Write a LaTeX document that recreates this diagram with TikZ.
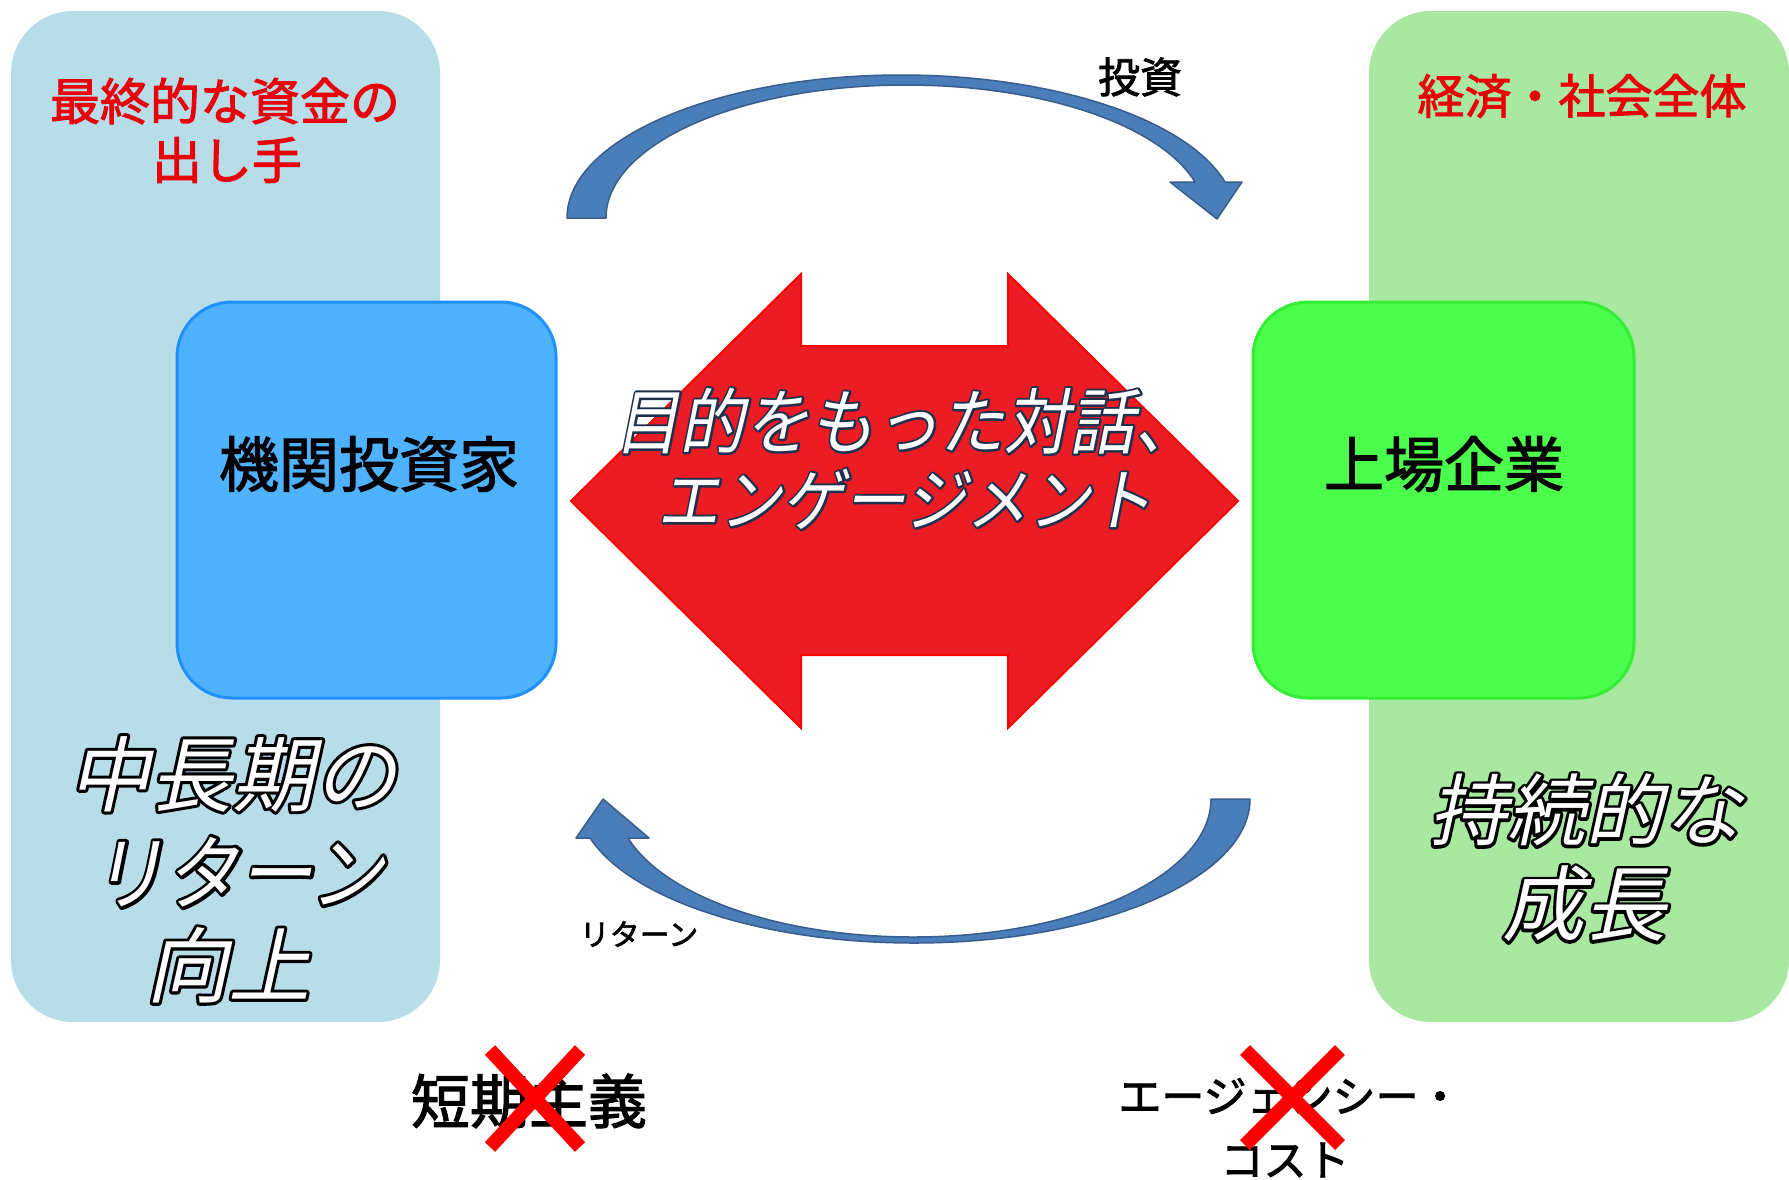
\documentclass[tikz,border=0pt]{standalone}
\usepackage{fontspec}
\setmainfont{Noto Sans CJK JP}[FakeBold=2]
\newfontfamily\jpsl[FakeSlant=0.22]{Noto Sans CJK JP}
\newcommand{\outlinedtext}[3]{\rlap{\special{pdf:literal direct 1 Tr #1 w 1 j #2 RG}#3\special{pdf:literal direct 0 Tr}}#3}
\definecolor{lbluebg}{HTML}{B7DDE8}
\definecolor{lgreenbg}{HTML}{A9E8A0}
\definecolor{bluefill}{HTML}{4FB2FF}
\definecolor{blueline}{HTML}{1E90FF}
\definecolor{greenfill}{HTML}{4DFF4D}
\definecolor{greenline}{HTML}{33EE33}
\definecolor{redfill}{HTML}{EC1C24}
\definecolor{redline}{HTML}{FF0000}
\definecolor{arrowfill}{HTML}{4A7EBB}
\definecolor{arrowline}{HTML}{385D8A}
\definecolor{titlered}{HTML}{E8000B}
\begin{document}
\begin{tikzpicture}[x=1pt,y=-1pt,
  bgbox/.style={rounded corners=62pt, inner sep=0pt, draw=none},
  actorbox/.style={rounded corners=55pt, inner sep=0pt, line width=3pt, minimum width=379pt, minimum height=396pt},
  bluearrow/.style={fill=arrowfill, draw=arrowline, line width=1.5pt, line join=round},
  redarrow/.style={fill=redfill, draw=redline, line width=2pt, line join=miter},
  redtitle/.style={inner sep=0pt, text=titlered, font=\fontsize{49}{55}\selectfont},
  actortext/.style={inner sep=0pt, text=black, font=\fontsize{60}{66}\selectfont},
  bigoutline/.style={inner sep=0pt, text=white},
  dialog/.style={inner sep=0pt, text=white},
  smalllabel/.style={inner sep=0pt, text=black},
  crossline/.style={draw=redline, line width=14pt},
]
\useasboundingbox (0,0) rectangle (1789,1179);
\fill[white] (0,0) rectangle (1789,1179);

% background panels
\node[bgbox, fill=lbluebg, minimum width=429pt, minimum height=1011pt] (leftpanel) at (225.5,516.5) {};
\node[bgbox, fill=lgreenbg, minimum width=420pt, minimum height=1011pt] (rightpanel) at (1579,516.5) {};

% curved arrows
\draw[bluearrow] (567,218) .. controls (567,139) and (717,75) .. (901,75)
  .. controls (1053,75) and (1187,119) .. (1225,182)
  -- (1242,182) -- (1217,219) -- (1170,182) -- (1195,182)
  .. controls (1159,124) and (1041,85) .. (906,85)
  .. controls (740,85) and (606,144) .. (606,218) -- cycle;
\draw[bluearrow] (1250,799) .. controls (1250,878) and (1100,943) .. (914,943)
  .. controls (763,943) and (631,900) .. (590,838)
  -- (576,838) -- (603,799) -- (649,838) -- (628,838)
  .. controls (665,897) and (781,937) .. (913,937)
  .. controls (1078,937) and (1211,875) .. (1211,799) -- cycle;

% red double arrow
\draw[redarrow] (571,501) -- (801,274) -- (801,346) -- (1008,346) -- (1008,274)
  -- (1238,501) -- (1008,728) -- (1008,655) -- (801,655) -- (801,728) -- cycle;

% actor boxes
\node[actorbox, fill=bluefill, draw=blueline] (investorbox) at (366.5,500) {};
\node[actorbox, fill=greenfill, draw=greenline, minimum width=381pt] (companybox) at (1443.5,500) {};
\node[actortext] (investor) at (369,464) {機関投資家};
\node[actortext] (company) at (1444,464) {上場企業};

% red titles
\node[redtitle, font=\fontsize{50}{55}\selectfont] (lt1) at (225,101) {最終的な資金の};
\node[redtitle, font=\fontsize{50}{55}\selectfont] (lt2) at (227,160) {出し手};
\node[redtitle, font=\fontsize{47}{52}\selectfont] (rt1) at (1582,96) {経済・社会全体};

% dialog text
\node[dialog, font=\jpsl\fontsize{65}{70}\selectfont] (dlg1) at (907,421) {\scalebox{1}[1.1]{\outlinedtext{4}{0.12 0.19 0.31}{目的をもった対話、}}};
\node[dialog, font=\jpsl\fontsize{62}{66}\selectfont] (dlg2) at (905,499) {\scalebox{1}[1.1]{\outlinedtext{4}{0.12 0.19 0.31}{エンゲージメント}}};

% outlined texts
\node[bigoutline, font=\jpsl\fontsize{82}{86}\selectfont] (ret1) at (232,774) {\outlinedtext{6}{0 0 0}{中長期の}};
\node[bigoutline, font=\jpsl\fontsize{74}{80}\selectfont] (ret2) at (237,872) {\scalebox{1}[1.1]{\outlinedtext{6}{0 0 0}{リターン}}};
\node[bigoutline, font=\jpsl\fontsize{82}{86}\selectfont] (ret3) at (228,965) {\outlinedtext{6}{0 0 0}{向上}};
\node[bigoutline, font=\jpsl\fontsize{78}{82}\selectfont] (gr1) at (1585,810) {\outlinedtext{6}{0 0 0}{持続的な}};
\node[bigoutline, font=\jpsl\fontsize{82}{86}\selectfont] (gr2) at (1584,904) {\outlinedtext{6}{0 0 0}{成長}};

% arrow labels
\node[smalllabel, font=\fontsize{42}{46}\selectfont] (invest) at (1140,77) {投資};
\node[smalllabel, font=\fontsize{30}{34}\selectfont] (retlabel) at (639,934) {リターン};

% bottom crossed texts
\node[smalllabel, font=\fontsize{59}{64}\selectfont] (shortterm) at (529,1101) {短期主義};
\node[smalllabel, font=\fontsize{43}{48}\selectfont] (agency1) at (1290,1096) {エージェンシー・};
\node[smalllabel, font=\fontsize{43}{48}\selectfont] (agency2) at (1285,1160) {コスト};

\coordinate (xa1) at (490,1050); \coordinate (xa2) at (580,1147);
\coordinate (xa3) at (580,1050); \coordinate (xa4) at (490,1147);
\draw[crossline] (xa1) -- (xa2);
\draw[crossline] (xa3) -- (xa4);
\coordinate (xb1) at (1245,1050); \coordinate (xb2) at (1340,1145);
\coordinate (xb3) at (1340,1050); \coordinate (xb4) at (1245,1145);
\draw[crossline] (xb1) -- (xb2);
\draw[crossline] (xb3) -- (xb4);
\end{tikzpicture}
\end{document}
